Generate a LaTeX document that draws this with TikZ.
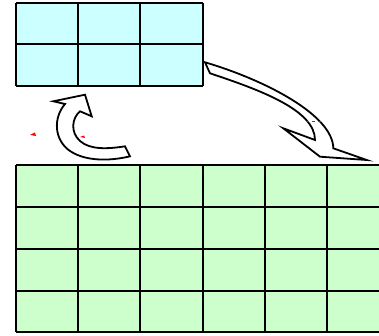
\documentclass[tikz,border=0pt]{standalone}
\begin{document}
\begin{tikzpicture}[x=1pt,y=-1pt,
  gridline/.style={line width=2pt,black},
  arrowshape/.style={draw=black,fill=white,line width=1.8pt,line join=miter},
  redmark/.style={fill=red,draw=none}]
\definecolor{topcyan}{HTML}{CCFFFF}
\definecolor{botgreen}{HTML}{CCFFCC}
\useasboundingbox (0,0) rectangle (379,336);
\clip (0,0) rectangle (379,336);
% top grid 3x2
\fill[topcyan] (16,3) rectangle (203,86);
\foreach \x in {16,78,140,203} \draw[gridline] (\x,3) -- (\x,86);
\foreach \y in {3,44,86} \draw[gridline] (16,\y) -- (203,\y);
% bottom grid 6x4
\fill[botgreen] (16,165) rectangle (390,332);
\foreach \x in {16,78,140,203,265,327,389.5} \draw[gridline] (\x,165) -- (\x,332);
\foreach \y in {165,207,249,291,332} \draw[gridline] (16,\y) -- (390,\y);
% right curved arrow (top grid -> bottom grid)
\draw[arrowshape] (205,62.3) .. controls (265,80) and (333,115) .. (333.3,148.3)
  -- (366.7,160) -- (320,156.7) -- (283.3,128.3) -- (315,140)
  .. controls (315,110) and (260,90) .. (210,73.3) -- cycle;
% left curved arrow (bottom grid -> top grid)
\draw[arrowshape] (125,146.3) .. controls (108,149) and (90,150) .. (80,141)
  .. controls (70,132) and (72,118) .. (80,111.3)
  -- (91.7,116.3) -- (85,94.7) -- (53.3,101.3) -- (65,104)
  .. controls (53,118) and (54,140) .. (70,151)
  .. controls (88,163) and (115,160) .. (130,156.3) -- cycle;
% small red marks
\fill[redmark] (30,135) -- (35,132.5) -- (36,136) -- cycle;
\fill[redmark] (80,137) -- (84,135.5) -- (85,138) -- cycle;
\draw[red,line width=1pt,dash pattern=on 3pt off 3pt] (306,121.5) -- (323,121.5);
\end{tikzpicture}
\end{document}
